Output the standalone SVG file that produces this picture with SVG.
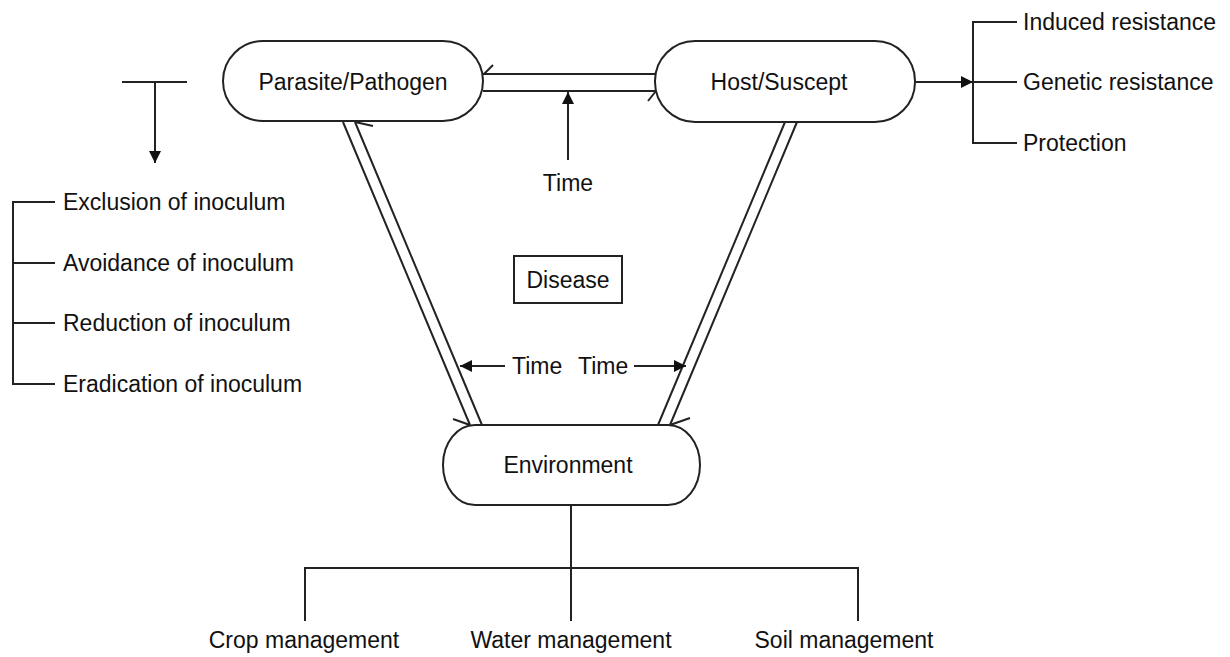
<svg xmlns="http://www.w3.org/2000/svg" width="1230" height="657" viewBox="0 0 1230 657">
<defs>
<marker id="ah" viewBox="0 0 10 10" refX="10" refY="5" markerWidth="12" markerHeight="12" markerUnits="userSpaceOnUse" orient="auto">
<path d="M0,0 L10,5 L0,10 z" fill="#111"/>
</marker>
</defs>
<style>
.box{fill:#fff;stroke:#222;stroke-width:2}
.ln{fill:none;stroke:#222;stroke-width:2}
.t{font-family:"Liberation Sans",Arial,sans-serif;font-size:23px;fill:#111}
.m{text-anchor:middle}
</style>
<rect width="1230" height="657" fill="#fff"/>
<g id="connectors">
<!-- Parasite <-> Host double line -->
<line class="ln" x1="483" y1="74" x2="657" y2="74"/>
<line class="ln" x1="483" y1="91" x2="657" y2="91"/>
<line class="ln" x1="484" y1="74" x2="493" y2="65"/>
<line class="ln" x1="656" y1="91" x2="648" y2="101"/>
<!-- left diagonal -->
<line class="ln" x1="343" y1="122" x2="470" y2="425"/>
<line class="ln" x1="355" y1="122" x2="482" y2="425"/>
<line class="ln" x1="355" y1="122" x2="373" y2="126"/>
<line class="ln" x1="470" y1="425" x2="453" y2="419"/>
<!-- right diagonal -->
<line class="ln" x1="785" y1="122" x2="658" y2="425"/>
<line class="ln" x1="797" y1="122" x2="670" y2="425"/>
<line class="ln" x1="797" y1="122" x2="803" y2="115"/>
<line class="ln" x1="670" y1="425" x2="690" y2="418"/>
<!-- Time arrows -->
<line class="ln" x1="568" y1="160" x2="568" y2="92" marker-end="url(#ah)"/>
<line class="ln" x1="505" y1="366" x2="460" y2="366" marker-end="url(#ah)"/>
<line class="ln" x1="634" y1="366" x2="686" y2="366" marker-end="url(#ah)"/>
<!-- left control arrow and bracket -->
<line class="ln" x1="122" y1="82" x2="187" y2="82"/>
<line class="ln" x1="155" y1="82" x2="155" y2="163" marker-end="url(#ah)"/>
<polyline class="ln" points="55,202 13,202 13,384 55,384"/>
<line class="ln" x1="13" y1="263" x2="55" y2="263"/>
<line class="ln" x1="13" y1="323" x2="55" y2="323"/>
<!-- right host arrow and bracket -->
<line class="ln" x1="915" y1="82" x2="973" y2="82" marker-end="url(#ah)"/>
<polyline class="ln" points="1017,22 973,22 973,143 1017,143"/>
<line class="ln" x1="973" y1="82" x2="1017" y2="82"/>
<!-- environment tree -->
<line class="ln" x1="571" y1="505" x2="571" y2="621"/>
<polyline class="ln" points="305,621 305,568 858,568 858,621"/>
</g>
<g id="parasite">
<rect class="box" x="223" y="41" width="260" height="80" rx="40" ry="40"/>
<text class="t m" x="353" y="90">Parasite/Pathogen</text>
</g>
<g id="host">
<rect class="box" x="655" y="41" width="260" height="81" rx="40" ry="40"/>
<text class="t m" x="779" y="90">Host/Suscept</text>
</g>
<g id="environment">
<rect class="box" x="443" y="425" width="257" height="80" rx="32" ry="40"/>
<text class="t m" x="568" y="473">Environment</text>
</g>
<g id="disease">
<rect class="box" x="514" y="256" width="108" height="47"/>
<text class="t m" x="568" y="288">Disease</text>
</g>
<g id="time-labels">
<text class="t m" x="568" y="191">Time</text>
<text class="t" x="512" y="374">Time</text>
<text class="t" x="578" y="374">Time</text>
</g>
<g id="inoculum-list">
<text class="t" x="63" y="210">Exclusion of inoculum</text>
<text class="t" x="63" y="271">Avoidance of inoculum</text>
<text class="t" x="63" y="331">Reduction of inoculum</text>
<text class="t" x="63" y="392">Eradication of inoculum</text>
</g>
<g id="host-list">
<text class="t" x="1023" y="30">Induced resistance</text>
<text class="t" x="1023" y="90">Genetic resistance</text>
<text class="t" x="1023" y="151">Protection</text>
</g>
<g id="management-list">
<text class="t m" x="304" y="648">Crop management</text>
<text class="t m" x="571" y="648">Water management</text>
<text class="t m" x="844" y="648">Soil management</text>
</g>
</svg>
